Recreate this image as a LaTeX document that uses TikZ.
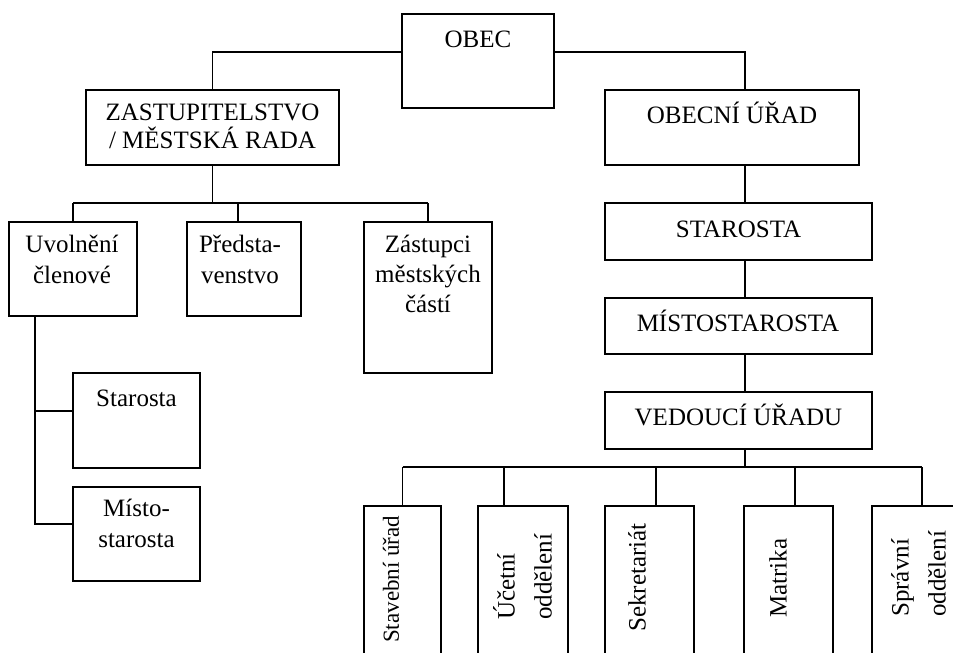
\documentclass[tikz,border=0pt]{standalone}
\usepackage{fontspec}
\setmainfont{Liberation Serif}
\usetikzlibrary{calc}
\begin{document}
\begin{tikzpicture}[x=1pt,y=-1pt,
  box/.style={draw, line width=1.3pt, inner sep=0pt, outer sep=0pt, anchor=north west},
  lbl/.style={inner sep=0pt, font=\fontsize{25}{30}\selectfont, align=center, anchor=base},
  vlbl/.style={inner sep=0pt, font=\fontsize{25}{37}\selectfont, align=left, rotate=90, anchor=west},
  link/.style={line width=1.3pt}]
\useasboundingbox (0,0) rectangle (953,653);
\fill[white] (0,0) rectangle (953,653);
\clip (0,0) rectangle (953,653);

% boxes
\node[box, minimum width=152pt, minimum height=94pt] (obec) at (402,14) {};
\node[box, minimum width=253pt, minimum height=75pt] (zast) at (86,90) {};
\node[box, minimum width=254pt, minimum height=75pt] (urad) at (605,90) {};
\node[box, minimum width=267pt, minimum height=57pt] (star) at (605,203) {};
\node[box, minimum width=267pt, minimum height=56pt] (mist) at (605,298) {};
\node[box, minimum width=267pt, minimum height=57pt] (ved) at (605,392) {};
\node[box, minimum width=128pt, minimum height=94pt] (uvol) at (9,222) {};
\node[box, minimum width=114pt, minimum height=94pt] (pred) at (187,222) {};
\node[box, minimum width=128pt, minimum height=151pt] (zas) at (364,222) {};
\node[box, minimum width=127pt, minimum height=95pt] (sta) at (73,373) {};
\node[box, minimum width=127pt, minimum height=94pt] (mis) at (73,487) {};
\node[box, minimum width=77pt, minimum height=200pt] (b1) at (364,506) {};
\node[box, minimum width=90pt, minimum height=200pt] (b2) at (478,506) {};
\node[box, minimum width=89pt, minimum height=200pt] (b3) at (605,506) {};
\node[box, minimum width=89pt, minimum height=200pt] (b4) at (744,506) {};
\node[box, minimum width=100pt, minimum height=200pt] (b5) at (872,506) {};

% labels (multi-line labels sit on the baseline of their last line)
\node[lbl] (obec-t) at (478,47) {OBEC};
\node[lbl, font=\fontsize{25}{28}\selectfont] (zast-t) at (212.5,148) {ZASTUPITELSTVO\\/ MĚSTSKÁ RADA};
\node[lbl] (urad-t) at (732,123) {OBECNÍ ÚŘAD};
\node[lbl] (star-t) at (738.5,237) {STAROSTA};
\node[lbl] (mist-t) at (738,331) {MÍSTOSTAROSTA};
\node[lbl] (ved-t) at (738.5,425) {VEDOUCÍ ÚŘADU};
\node[lbl, font=\fontsize{25}{31}\selectfont] (uvol-t) at (72,283) {Uvolnění\\členové};
\node[lbl, font=\fontsize{25}{31}\selectfont] (pred-t) at (240,283) {Předsta-\\venstvo};
\node[lbl] (zas-t) at (428,312) {Zástupci\\městských\\částí};
\node[lbl] (sta-t) at (136.5,406) {Starosta};
\node[lbl, font=\fontsize{25}{31}\selectfont] (mis-t) at (136.5,547) {Místo-\\starosta};
\node[vlbl, font=\fontsize{23}{37}\selectfont] (b1-t) at (391,643) {Stavební úřad};
\node[vlbl] (b2-t) at (522.5,620) {Účetní\\oddělení};
\node[vlbl] (b3-t) at (637,632) {Sekretariát};
\node[vlbl] (b4-t) at (778,618) {Matrika};
\node[vlbl] (b5-t) at (918.5,617) {Správní\\oddělení};

% top level
\draw[link] ([yshift=9pt]obec.west) -| (zast.north);
\draw[link] ([yshift=9pt]obec.east) -| ([xshift=13pt]urad.north);

% office chain
\draw[link] ([xshift=13pt]urad.south) -- ([xshift=6.5pt]star.north);
\draw[link] ([xshift=6.5pt]star.south) -- ([xshift=6.5pt]mist.north);
\draw[link] ([xshift=6.5pt]mist.south) -- ([xshift=6.5pt]ved.north);
\coordinate (vbus) at (745,467);
\draw[link] ([xshift=6.5pt]ved.south) -- (vbus);
\draw[link] (b1.north |- vbus) -- (b5.north |- vbus);
\draw[link] (b1.north |- vbus) -- (b1.north);
\draw[link] ([xshift=-19pt]b2.north) -- ++(0,-39);
\draw[link] ([xshift=6.5pt]b3.north) -- ++(0,-39);
\draw[link] ([xshift=6.5pt]b4.north) -- ++(0,-39);
\draw[link] (b5.north |- vbus) -- (b5.north);

% council branch
\coordinate (zbus) at (212.5,203);
\draw[link] (zast.south) -- (zbus);
\draw[link] (uvol.north |- zbus) -- (zas.north |- zbus);
\draw[link] (uvol.north |- zbus) -- (uvol.north);
\draw[link] ([xshift=-6pt]pred.north) -- ++(0,-19);
\draw[link] (zas.north |- zbus) -- (zas.north);

% released members
\draw[link] ([xshift=-38pt]uvol.south) |- ([yshift=10pt]mis.west);
\draw[link] ([yshift=9.5pt]sta.west) -- ++(-38,0);
\end{tikzpicture}
\end{document}
